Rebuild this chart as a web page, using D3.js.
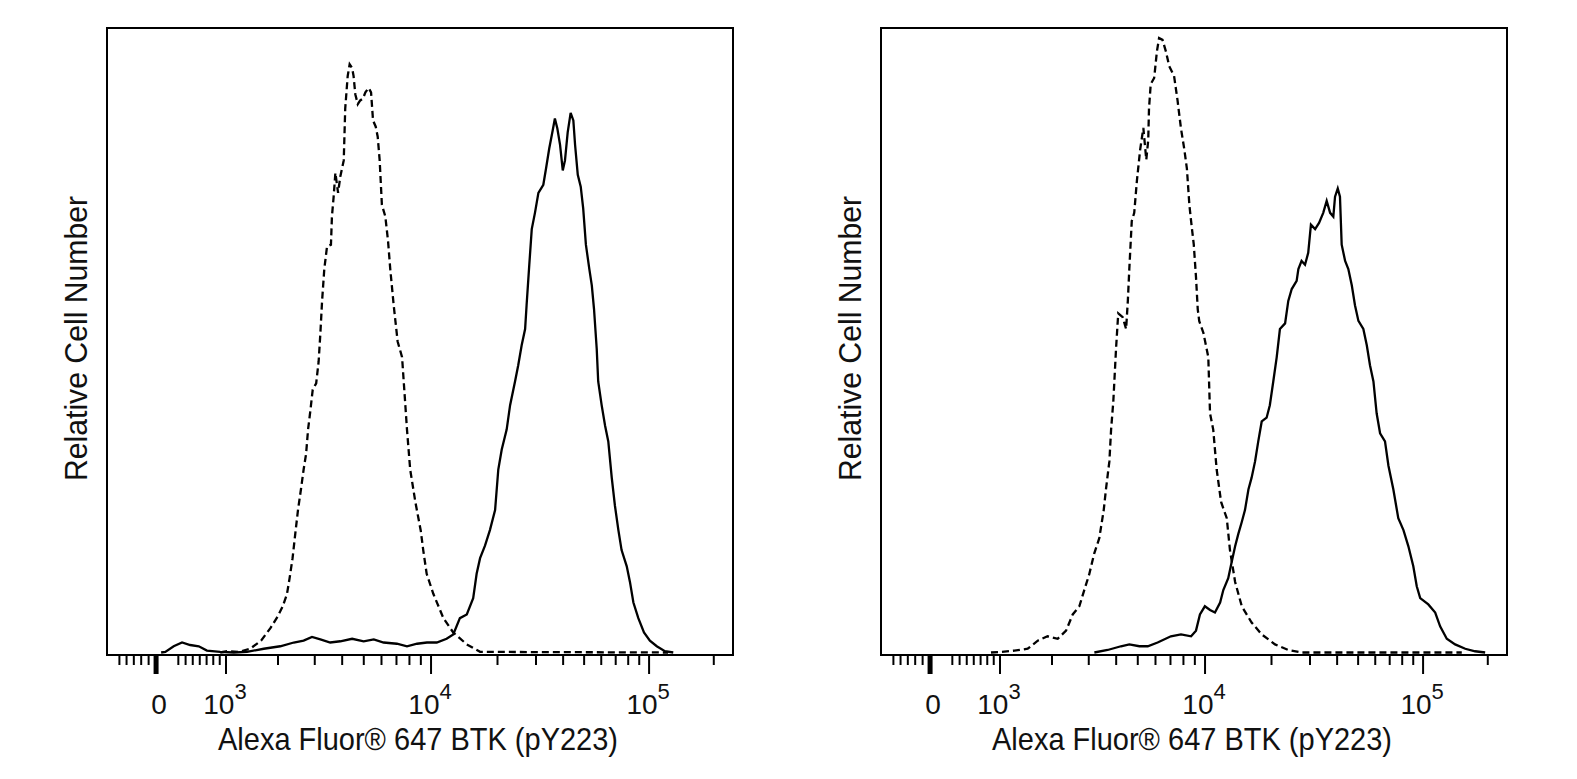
<!DOCTYPE html>
<html>
<head>
<meta charset="utf-8">
<script src="https://cdn.jsdelivr.net/npm/d3@7"></script>
<style>
    body { margin: 0; background: #fff; }
    #chart svg { display: block; }
    text { font-family: "Liberation Sans", Arial, sans-serif; fill: #111; }
</style>
</head>
<body>
<div id="chart"></div>
<script>

// Histogram data: x = display channel (256-channel biexponential scale),
// y = cell count as % of the plot height

// Left panel - isotype / unstimulated (dashed)
const leftDashedChannel = [46, 48.8, 53.5, 58.2, 62.6, 66.4, 69.4, 71.4, 73.1, 74.2, 75.4, 76.5, 77.6, 78.8, 79.9, 80.9,
    81.7, 82.6, 83.6, 85.0, 86.0, 86.7, 87.4, 88.3, 89.4, 91.0, 91.4, 92.1, 92.8, 93.9, 94.8, 96.2, 96.8, 97.8, 98.6,
    99.6, 100.2, 100.9, 101.9, 102.9, 104.0, 105.0, 106.3, 107.3, 108.1, 109.2, 110.0, 110.8, 111.7, 113.1, 114.2,
    115.1, 116.5, 118.1, 119.9, 120.8, 121.9, 123.2, 125.3, 127.5, 128.5, 129.9, 132.6, 136.7, 140.7, 146.2, 151.6, 228];
const leftDashedCount = [0, 0.2, 0.1, 0.6, 1.9, 3.9, 5.8, 7.4, 9.3, 11.9, 15.1, 19.0, 22.8, 26.1, 29.3, 31.8,
    35.7, 38.6, 42.1, 43.1, 46.6, 51.1, 56.3, 61.4, 65.0, 65.3, 69.8, 73.0, 76.8, 73.6, 76.2, 78.8, 87.1, 92.3, 94.2,
    93.6, 92.3, 89.4, 87.8, 88.4, 88.7, 89.7, 90.4, 89.7, 85.2, 84.2, 82.6, 78.8, 71.7, 69.8, 65.9,
    61.4, 55.6, 49.8, 47.3, 42.1, 35.7, 29.3, 24.1, 19.5, 16.4, 12.6, 9.4, 5.5, 3.2, 1.3, 0.1, 0];

// Left panel - stained (solid)
const leftSolidChannel = [22, 23.7, 27.1, 30.5, 33.8, 37.3, 40.6, 46.0, 51.5, 56.9, 63.7, 70.4, 75.9, 79.9, 83.3, 86.7,
    90.7, 94.8, 99.6, 104.3, 108.4, 112.4, 117.8, 121.9, 126.0, 130.0, 134.0, 138.0, 140.7, 143.4, 146.2, 148.8,
    150.2, 151.6, 153.6, 155.6, 157.7, 159.0, 160.4, 162.4, 163.8, 165.8, 167.1, 168.5, 169.9, 170.5, 171.6, 172.6,
    173.9, 175.3, 177.3, 178.4, 179.7, 181.1, 182.0, 183.0, 184.1, 185.2, 186.1, 187.2, 188.4, 189.5, 190.2, 191.3,
    192.5, 193.5, 194.6, 196.0, 197.0, 197.9, 199.0, 199.6, 201.0, 202.4, 203.7, 205.1, 206.4, 207.8, 209.1, 211.2,
    212.5, 213.9, 215.9, 218.2, 220.6, 223.4, 226.7, 230.1];
const leftSolidCount = [0, 0.1, 1.0, 1.6, 1.2, 1.0, 0.3, 0.1, 0, 0.1, 0.6, 1.0, 1.6, 1.9, 2.5, 2.1,
    1.6, 1.8, 2.2, 1.8, 2.1, 1.6, 1.4, 1.0, 1.4, 1.6, 1.6, 2.2, 2.9, 5.5, 6.1, 8.7,
    12.6, 15.1, 17.1, 19.6, 22.8, 29.3, 32.5, 35.7, 39.6, 43.4, 46.0, 49.2, 51.8, 55.6, 62.1, 67.8,
    70.4, 73.6, 74.9, 77.5, 80.7, 83.6, 85.5, 83.9, 81.3, 77.2, 78.8, 83.3, 86.4, 85.2, 81.3, 76.5,
    74.6, 71.1, 65.3, 61.4, 58.8, 55.0, 48.6, 43.4, 39.6, 36.3, 33.8, 28.0, 23.5, 19.6, 16.4, 13.8,
    11.3, 8.0, 5.5, 3.2, 1.9, 1.0, 0.2, 0];

// Right panel - isotype / unstimulated (dashed)
const rightDashedChannel = [44.7, 48.8, 54.2, 59.6, 63.7, 67.7, 71.8, 75.2, 77.9, 80.6, 82.6, 84.6, 86.6, 88.7, 90.5,
    91.4, 92.8, 93.5, 94.4, 95.5, 96.4, 98.2, 99.6, 100.3, 100.9, 101.9, 102.9, 104.0, 105.3, 106.6, 107.8, 108.6,
    108.9, 109.6, 111.0, 112.1, 113.0, 114.4, 115.8, 117.1, 119.1, 120.5, 121.9, 123.2, 124.3, 125.3, 126.0, 127.1,
    128.0, 128.7, 129.3, 131.0, 133.0, 133.7, 135.0, 136.4, 138.2, 140.5, 141.8, 143.9, 146.6, 150.6, 154.7, 160.1,
    165.5, 171.0, 236];
const rightDashedCount = [0, 0.1, 0.3, 0.6, 1.9, 2.6, 2.2, 3.5, 6.1, 7.4, 10.0, 12.5, 15.8, 18.3, 22.8,
    26.1, 30.6, 35.7, 40.2, 48.6, 54.3, 53.7, 51.8, 56.3, 61.4, 69.1, 70.4, 75.6, 80.5, 84.0, 78.9, 82.1,
    87.1, 91.0, 92.0, 96.2, 98.4, 98.1, 96.2, 93.9, 92.3, 88.4, 83.9, 80.7, 77.5, 71.7, 69.1, 65.3,
    60.1, 55.0, 53.1, 51.2, 47.3, 38.3, 35.7, 29.3, 24.1, 21.5, 16.4, 11.3, 7.4, 4.8, 2.9, 1.3,
    0.4, 0, 0];

// Right panel - stained (solid)
const rightSolidChannel = [86.7, 92.1, 97.5, 100.9, 105.0, 108.4, 112.4, 117.8, 121.9, 126.0, 128.0, 129.6, 131.6,
    133.7, 135.7, 137.8, 139.1, 141.1, 142.5, 143.9, 145.2, 146.6, 147.9, 149.3, 150.6, 152.0, 153.3, 154.7, 156.7,
    158.0, 159.4, 160.8, 162.1, 164.2, 165.5, 166.9, 168.9, 169.6, 170.9, 172.3, 173.6, 174.7, 176.4, 178.0, 179.7,
    181.1, 182.5, 183.8, 184.5, 185.6, 186.5, 187.2, 188.6, 189.9, 191.3, 192.6, 194.0, 196.0, 197.4, 198.7, 200.1,
    201.4, 202.8, 204.8, 206.2, 208.2, 210.2, 212.3, 214.3, 216.3, 217.7, 219.1, 222.4, 225.2, 227.2, 229.9, 233.3,
    237.4, 241.4, 245.5];
const rightSolidCount = [0, 0.4, 1.0, 1.3, 1.0, 1.0, 1.6, 2.6, 2.9, 2.6, 3.5, 6.1, 7.4,
    6.8, 6.4, 8.0, 10.0, 11.9, 14.5, 17.0, 19.0, 20.9, 22.8, 26.1, 28.0, 30.6, 33.8, 37.0, 37.6,
    39.6, 43.4, 47.3, 51.8, 52.7, 56.3, 58.2, 59.5, 61.4, 62.7, 62.1, 64.0, 68.5, 67.8, 68.8, 70.4,
    72.3, 70.4, 69.8, 73.0, 74.3, 73.0, 65.3, 62.7, 61.4, 58.8, 55.6, 53.1, 51.8, 49.2, 46.0, 43.4,
    38.3, 35.1, 33.8, 29.9, 26.1, 21.5, 19.6, 17.0, 13.8, 10.6, 8.7, 7.7, 6.4, 4.2, 2.2, 1.3,
    0.6, 0.2, 0];

// Axis ticks (fluorescence values)
const majorTicks = [0, 1e3, 1e4, 1e5];
const majorTickExponents = [null, 3, 4, 5];
const minorTicks = [-500, -400, -300, -200, -100,
    300, 400, 500, 600, 700, 800, 900,
    2e3, 3e3, 4e3, 5e3, 6e3, 7e3, 8e3, 9e3,
    2e4, 3e4, 4e4, 5e4, 6e4, 7e4, 8e4, 9e4,
    2e5];

const xAxisTitle = "Alexa Fluor\u00AE 647 BTK (pY223)";
const yAxisTitle = "Relative Cell Number";


// Logicle (biexponential) transform: data value -> display position 0..1
function makeLogicle(T, W, M, A) {
    let w = W / (M + A), x2 = A / (M + A), x1 = x2 + w, x0 = x2 + 2 * w;
    let b = (M + A) * Math.LN10;

    // solve 2(ln d - ln b) + w(b + d) = 0 for d
    let lo = 1e-9, hi = b;
    for (let i = 0; i < 200; i++) {
        let m = (lo + hi) / 2;
        if (2 * (Math.log(m) - Math.log(b)) + w * (b + m) > 0) hi = m; else lo = m;
    }
    let d = (lo + hi) / 2;

    let ca = Math.exp(x0 * (b + d));
    let mfa = Math.exp(b * x1) - ca / Math.exp(d * x1);
    let a = T / (Math.exp(b) - mfa - ca / Math.exp(d));
    let c = ca * a, f = -mfa * a;

    let inverse = function (y) {
        let neg = y < x1;
        if (neg) y = 2 * x1 - y;
        let v = a * Math.exp(b * y) + f - c * Math.exp(-d * y);
        return neg ? -v : v;
    };

    return function (v) {
        let lo = -1, hi = 1.5;
        for (let i = 0; i < 60; i++) {
            let m = (lo + hi) / 2;
            if (inverse(m) < v) lo = m; else hi = m;
        }
        return (lo + hi) / 2;
    };
}

const logicle = makeLogicle(262144, 0.22, 2.944, 0);


class FlowHistogram {

    constructor(_svg, _left, _data) {
        this.svg = _svg;
        this.left = _left;
        this.data = _data;

        this.initVis();
    }

    initVis() {
        let vis = this;

        vis.margin = { top: 28, left: vis.left };
        vis.width = 626;
        vis.height = 627;

        vis.g = vis.svg.append("g")
            .attr("transform", "translate(" + vis.margin.left + "," + vis.margin.top + ")");

        // Logicle display position (0..1) -> pixels, used for the axis
        vis.x = d3.scaleLinear()
            .domain([0, 1])
            .range([2, 632]);

        // Histogram channels -> pixels
        vis.xChannel = d3.scaleLinear()
            .domain([0, 256])
            .range([0, 630]);

        vis.y = d3.scaleLinear()
            .domain([0, 100])
            .range([624.5, 0]);

        vis.tickX = v => vis.x(logicle(v));

        vis.line = d3.line()
            .x(d => vis.xChannel(d.ch))
            .y(d => vis.y(d.count));

        vis.updateVis();
    }

    updateVis() {
        let vis = this;

        // Curves
        vis.g.selectAll(".curve")
            .data(vis.data)
            .enter().append("path")
            .attr("class", "curve")
            .attr("fill", "none")
            .attr("stroke", "#000")
            .attr("stroke-width", 2.3)
            .attr("stroke-linejoin", "miter")
            .attr("stroke-dasharray", d => d.dashed ? "7,4" : null)
            .attr("d", d => vis.line(d.channel.map((ch, i) => ({ ch: ch, count: d.count[i] }))));

        // Frame
        vis.g.append("rect")
            .attr("x", 0)
            .attr("y", 0)
            .attr("width", vis.width)
            .attr("height", vis.height)
            .attr("fill", "none")
            .attr("stroke", "#000")
            .attr("stroke-width", 2);

        // Minor ticks
        vis.g.selectAll(".minor-tick")
            .data(minorTicks)
            .enter().append("line")
            .attr("class", "minor-tick")
            .attr("x1", d => vis.tickX(d))
            .attr("x2", d => vis.tickX(d))
            .attr("y1", vis.height)
            .attr("y2", vis.height + 10)
            .attr("stroke", "#000")
            .attr("stroke-width", 2);

        // Major ticks (zero is drawn heavier, like the cluster on the original)
        vis.g.selectAll(".major-tick")
            .data(majorTicks)
            .enter().append("line")
            .attr("class", "major-tick")
            .attr("x1", d => vis.tickX(d))
            .attr("x2", d => vis.tickX(d))
            .attr("y1", vis.height)
            .attr("y2", vis.height + 19)
            .attr("stroke", "#000")
            .attr("stroke-width", d => d === 0 ? 5 : 2);

        // Tick labels
        let labels = vis.g.selectAll(".tick-label")
            .data(majorTicks)
            .enter().append("text")
            .attr("class", "tick-label")
            .attr("x", d => vis.tickX(d) + (d === 0 ? 3 : -1))
            .attr("y", 685.5)
            .attr("text-anchor", "middle")
            .attr("font-size", 28);

        labels.append("tspan")
            .text((d, i) => majorTickExponents[i] === null ? "0" : "10");

        labels.filter((d, i) => majorTickExponents[i] !== null)
            .append("tspan")
            .attr("dy", -15)
            .attr("font-size", 22)
            .text(d => majorTickExponents[majorTicks.indexOf(d)]);

        // Axis titles
        vis.g.append("text")
            .attr("x", 111)
            .attr("y", 721.5)
            .attr("font-size", 31.5)
            .attr("textLength", 400)
            .attr("lengthAdjust", "spacingAndGlyphs")
            .text(xAxisTitle);

        vis.g.append("text")
            .attr("transform", "translate(-20.5,453) rotate(-90)")
            .attr("font-size", 32)
            .attr("textLength", 285)
            .attr("lengthAdjust", "spacingAndGlyphs")
            .text(yAxisTitle);
    }
}


let svg = d3.select("#chart").append("svg")
    .attr("width", 1577)
    .attr("height", 779);

let leftPanel = new FlowHistogram(svg, 107, [
    { dashed: true, channel: leftDashedChannel, count: leftDashedCount },
    { dashed: false, channel: leftSolidChannel, count: leftSolidCount }
]);

let rightPanel = new FlowHistogram(svg, 881, [
    { dashed: true, channel: rightDashedChannel, count: rightDashedCount },
    { dashed: false, channel: rightSolidChannel, count: rightSolidCount }
]);

</script>
</body>
</html>
